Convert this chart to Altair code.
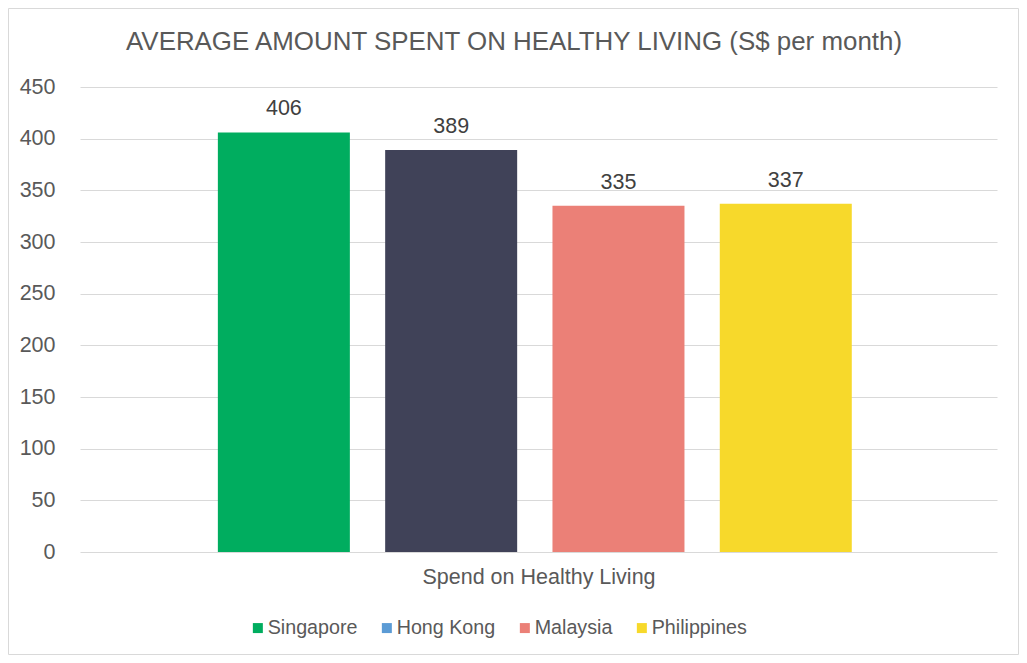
import altair as alt
import pandas as pd

countries = ["Singapore", "Hong Kong", "Malaysia", "Philippines"]
values = [406, 389, 335, 337]
bar_colors = ["#00AD5F", "#404258", "#EB8077", "#F7D92B"]
legend_colors = ["#00AD5F", "#5B9BD5", "#EB8077", "#F7D92B"]
y_ticks = [0, 50, 100, 150, 200, 250, 300, 350, 400, 450]
title_text = "AVERAGE AMOUNT SPENT ON HEALTHY LIVING (S$ per month)"
x_title = "Spend on Healthy Living"

df = pd.DataFrame({"country": countries, "value": values, "bar_color": bar_colors})

W, H = 917, 465
FONT = "Liberation Sans"
FS = 21.5

x_enc = alt.X("country:N", sort=countries,
              scale=alt.Scale(paddingInner=0.211, paddingOuter=0.846, align=0.487),
              axis=alt.Axis(labels=False, ticks=False, domain=False, title=x_title,
                            titleFont=FONT, titleFontSize=FS, titleFontWeight="normal",
                            titleColor="#595959", titlePadding=14))
y_enc = alt.Y("value:Q", scale=alt.Scale(domain=[0, 450], nice=False),
              axis=alt.Axis(values=y_ticks, title=None, domain=False, ticks=False,
                            labelFont=FONT, labelFontSize=FS, labelColor="#595959",
                            labelPadding=25, gridColor="#D9D9D9", gridWidth=1))

base = alt.Chart(df)

bars = base.mark_bar().encode(
    x=x_enc, y=y_enc,
    fill=alt.Fill("bar_color:N", scale=None),
)

labels = base.mark_text(dy=-12, baseline="bottom", font=FONT, fontSize=FS,
                        color="#404040").encode(
    x=alt.X("country:N", sort=countries), y="value:Q", text="value:Q")

legend_layer = base.mark_bar(opacity=0).encode(
    x=alt.X("country:N", sort=countries), y="value:Q",
    color=alt.Color("country:N", sort=countries,
                    scale=alt.Scale(domain=countries, range=legend_colors),
                    legend=alt.Legend(title=None, orient="none", direction="horizontal",
                                      legendX=168, legendY=531,
                                      symbolType="square", symbolSize=100,
                                      symbolOpacity=1, symbolStrokeWidth=0,
                                      labelFont=FONT, labelFontSize=19.7,
                                      labelColor="#595959", labelOffset=0,
                                      columnPadding=19)),
)

single = alt.Chart(pd.DataFrame({"a": [0]}))

border = single.mark_rect(
    fill=None, stroke="#D9D9D9", strokeWidth=1).encode(
    x=alt.value(-71.5), x2=alt.value(W + 21.5),
    y=alt.value(-78.5), y2=alt.value(H + 102.5))

title = single.mark_text(text=title_text, font=FONT, fontSize=25.9, color="#595959",
                         align="center", baseline="alphabetic").encode(
    x=alt.value(434), y=alt.value(-37))

chart = alt.layer(border, bars, labels, legend_layer, title).properties(
    width=W, height=H,
    autosize=alt.AutoSizeParams(type="none"),
    padding={"left": 72, "right": 22, "top": 79, "bottom": 103},
).configure_view(stroke=None)

chart.save("out.html", embed_options={"renderer": "svg", "actions": False})
